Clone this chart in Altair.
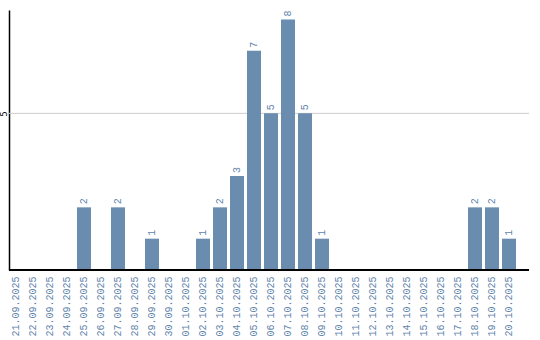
import altair as alt
import pandas as pd

dates = ["21.09.2025", "22.09.2025", "23.09.2025", "24.09.2025", "25.09.2025",
         "26.09.2025", "27.09.2025", "28.09.2025", "29.09.2025", "30.09.2025",
         "01.10.2025", "02.10.2025", "03.10.2025", "04.10.2025", "05.10.2025",
         "06.10.2025", "07.10.2025", "08.10.2025", "09.10.2025", "10.10.2025",
         "11.10.2025", "12.10.2025", "13.10.2025", "14.10.2025", "15.10.2025",
         "16.10.2025", "17.10.2025", "18.10.2025", "19.10.2025", "20.10.2025"]
counts = [0, 0, 0, 0, 2, 0, 2, 0, 1, 0,
          0, 1, 2, 3, 7, 5, 8, 5, 1, 0,
          0, 0, 0, 0, 0, 0, 0, 2, 2, 1]
grid_values = [5]

df = pd.DataFrame({"date": dates, "count": counts})
df["label"] = df["count"].apply(lambda v: str(v) if v > 0 else "")
grid_df = pd.DataFrame({"v": grid_values})

BLUE = "#6a8caf"
TXT = "#5f84ab"
W, H = 520, 260
YDOM = [0, 8.3]

x = alt.X("date:N", sort=dates,
          scale=alt.Scale(range=[0, 507], paddingInner=0.176, paddingOuter=0),
          axis=alt.Axis(title=None, labelAngle=270, labelAlign="right", labelBaseline="middle",
                        labelFont="Liberation Mono", labelFontSize=10, labelColor=TXT,
                        ticks=False, domain=False, labelPadding=6))
y = alt.Y("count:Q", scale=alt.Scale(domain=YDOM, nice=False),
          axis=alt.Axis(title=None, values=grid_values, ticks=False, domain=True,
                        domainColor="black", domainWidth=1.5, labelAngle=270,
                        labelAlign="center", labelBaseline="bottom", labelFont="DejaVu Sans",
                        labelFontSize=8, labelColor="black", labelPadding=1, grid=False))

grid = alt.Chart(grid_df).mark_rule(color="#cccccc", strokeWidth=1).encode(
    y=alt.Y("v:Q", scale=alt.Scale(domain=YDOM, nice=False)),
    x=alt.value(0), x2=alt.value(W))
bars = alt.Chart(df).mark_bar(color=BLUE).encode(x=x, y=y)
labels = alt.Chart(df).mark_text(angle=270, align="left", baseline="middle", dx=3,
                                 font="Liberation Mono", fontSize=10, color=TXT).encode(
    x=alt.X("date:N", sort=dates), y="count:Q", text="label:N")
base = alt.Chart(df).mark_rule(color="black", strokeWidth=1.5).encode(
    x=alt.value(0), x2=alt.value(W), y=alt.value(H))

chart = (grid + bars + labels + base).properties(
    width=W, height=H,
    padding={"left": 0, "top": 10, "right": 5, "bottom": 0}
).configure_view(stroke=None)
chart.save("out.html", embed_options={"renderer": "svg", "actions": False})
